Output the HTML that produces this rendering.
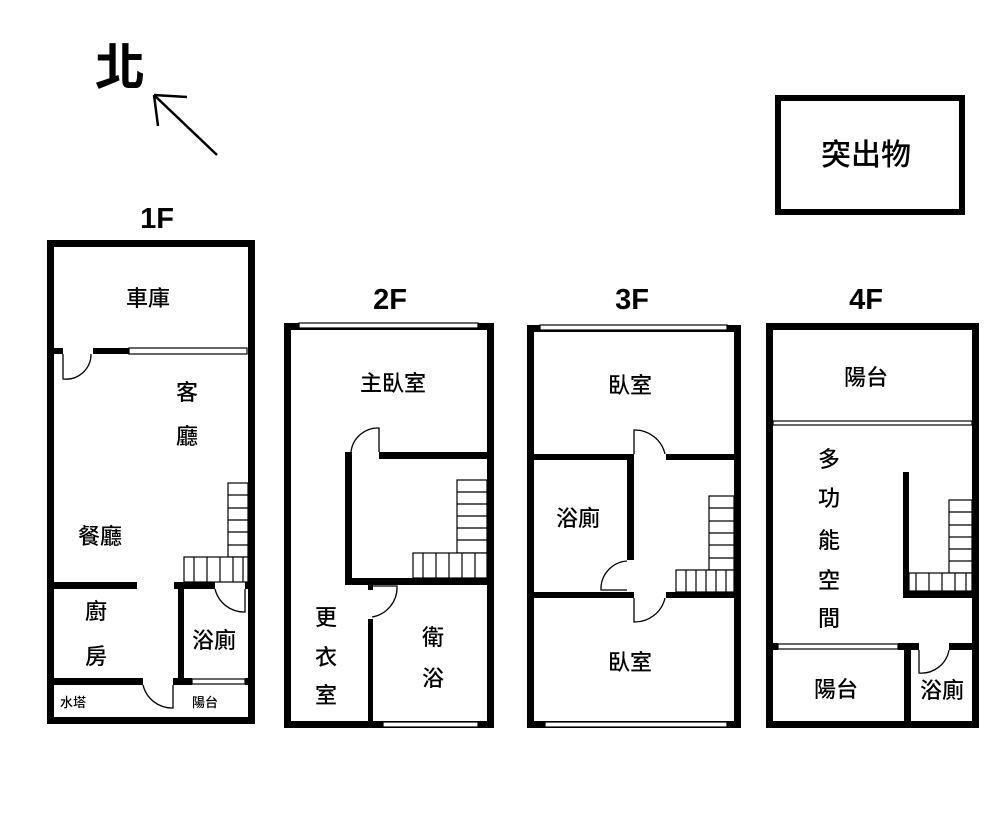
<!DOCTYPE html>
<html><head><meta charset="utf-8"><style>
html,body{margin:0;padding:0;background:#fff;}
svg{display:block}
text{font-family:"Liberation Sans","Noto Sans CJK TC",sans-serif;fill:#000;}
</style></head><body>
<svg width="1000" height="817" viewBox="0 0 1000 817" xmlns="http://www.w3.org/2000/svg">
<rect width="1000" height="817" fill="#fff"/>
<!-- North -->
<text x="120" y="85" font-size="50" font-weight="bold" text-anchor="middle" font-family="Noto Sans CJK TC,sans-serif">北</text>
<g stroke="#000" stroke-width="2.5" fill="none">
<line x1="217" y1="155" x2="154" y2="95"/>
<line x1="154" y1="95" x2="187" y2="97"/>
<line x1="154" y1="95" x2="158" y2="126"/>
</g>
<!-- legend box -->
<rect x="778" y="98" width="184" height="114" fill="none" stroke="#000" stroke-width="6"/>
<text x="866" y="165" font-size="30" font-weight="500" text-anchor="middle" font-family="Noto Sans CJK TC,sans-serif">突出物</text>
<!-- floor labels -->
<g font-size="29" font-weight="bold" text-anchor="middle">
<text x="157" y="228">1F</text>
<text x="390" y="309">2F</text>
<text x="632" y="309">3F</text>
<text x="866" y="309">4F</text>
</g>

<g fill="#000">
<rect x="47" y="240" width="208" height="7"/>
<rect x="47" y="240" width="7" height="484"/>
<rect x="248" y="240" width="7" height="484"/>
<rect x="47" y="717" width="208" height="7"/>
<rect x="47" y="348" width="16" height="6"/>
<rect x="93" y="348" width="36" height="6"/>
<rect x="47" y="582" width="90" height="7"/>
<rect x="174" y="582" width="41" height="7"/>
<rect x="245" y="582" width="10" height="7"/>
<rect x="178" y="582" width="6" height="103"/>
<rect x="47" y="678" width="96" height="7"/>
<rect x="173" y="678" width="19" height="7"/>
<rect x="245" y="678" width="10" height="7"/>

<rect x="284" y="323" width="210" height="7"/>
<rect x="284" y="323" width="7" height="405"/>
<rect x="487" y="323" width="7" height="405"/>
<rect x="284" y="721" width="210" height="7"/>
<rect x="345" y="452" width="7" height="133"/>
<rect x="379" y="452" width="115" height="7"/>
<rect x="345" y="578" width="149" height="7"/>
<rect x="368" y="585" width="5" height="5"/>
<rect x="368" y="619" width="5" height="105"/>

<rect x="527" y="325" width="213" height="7"/>
<rect x="527" y="325" width="7" height="403"/>
<rect x="734" y="325" width="7" height="403"/>
<rect x="527" y="721" width="213" height="7"/>
<rect x="527" y="454" width="107" height="6"/>
<rect x="666" y="454" width="74" height="6"/>
<rect x="627" y="454" width="7" height="106"/>
<rect x="527" y="592" width="107" height="6"/>
<rect x="666" y="592" width="74" height="6"/>

<rect x="766" y="323" width="212" height="7"/>
<rect x="766" y="323" width="7" height="405"/>
<rect x="972" y="323" width="7" height="405"/>
<rect x="766" y="721" width="212" height="7"/>
<rect x="903" y="472" width="6" height="126"/>
<rect x="903" y="591" width="75" height="7"/>
<rect x="766" y="643" width="12" height="7"/>
<rect x="898" y="643" width="21" height="7"/>
<rect x="949" y="643" width="29" height="7"/>
<rect x="904" y="643" width="7" height="85"/>
</g>

<g fill="#fff" stroke="#000" stroke-width="1.2">
<rect x="129" y="348" width="118" height="6"/>
<rect x="192" y="679" width="53" height="5"/>
<rect x="299" y="323" width="179" height="5"/>
<rect x="383" y="722" width="95" height="5"/>
<rect x="540" y="325" width="187" height="5"/>
<rect x="545" y="722" width="182" height="5"/>
<rect x="773" y="421" width="199" height="4"/>
<rect x="778" y="644" width="120" height="5"/>
</g>

<g fill="#fff" stroke="#000" stroke-width="1.2">
<rect x="228" y="483" width="20" height="74"/>
<line x1="228" y1="495" x2="248" y2="495"/><line x1="228" y1="508" x2="248" y2="508"/>
<line x1="228" y1="520" x2="248" y2="520"/><line x1="228" y1="532" x2="248" y2="532"/><line x1="228" y1="545" x2="248" y2="545"/>
<rect x="184" y="557" width="64" height="25"/>
<line x1="194" y1="557" x2="194" y2="582"/><line x1="207" y1="557" x2="207" y2="582"/>
<line x1="220" y1="557" x2="220" y2="582"/><line x1="233" y1="557" x2="233" y2="582"/><line x1="243" y1="557" x2="243" y2="582"/>

<rect x="457" y="480" width="30" height="73"/>
<line x1="457" y1="492" x2="487" y2="492"/><line x1="457" y1="504" x2="487" y2="504"/>
<line x1="457" y1="516" x2="487" y2="516"/><line x1="457" y1="528" x2="487" y2="528"/><line x1="457" y1="540" x2="487" y2="540"/>
<rect x="413" y="553" width="74" height="25"/>
<line x1="423" y1="553" x2="423" y2="578"/><line x1="436" y1="553" x2="436" y2="578"/>
<line x1="449" y1="553" x2="449" y2="578"/><line x1="462" y1="553" x2="462" y2="578"/><line x1="475" y1="553" x2="475" y2="578"/>

<rect x="709" y="496" width="25" height="74"/>
<line x1="709" y1="508" x2="734" y2="508"/><line x1="709" y1="521" x2="734" y2="521"/>
<line x1="709" y1="533" x2="734" y2="533"/><line x1="709" y1="545" x2="734" y2="545"/><line x1="709" y1="558" x2="734" y2="558"/>
<rect x="676" y="570" width="58" height="22"/>
<line x1="686" y1="570" x2="686" y2="592"/><line x1="696" y1="570" x2="696" y2="592"/>
<line x1="706" y1="570" x2="706" y2="592"/><line x1="716" y1="570" x2="716" y2="592"/><line x1="726" y1="570" x2="726" y2="592"/>

<rect x="949" y="500" width="23" height="73"/>
<line x1="949" y1="512" x2="972" y2="512"/><line x1="949" y1="525" x2="972" y2="525"/>
<line x1="949" y1="537" x2="972" y2="537"/><line x1="949" y1="549" x2="972" y2="549"/><line x1="949" y1="561" x2="972" y2="561"/>
<rect x="909" y="573" width="63" height="18"/>
<line x1="916" y1="573" x2="916" y2="591"/><line x1="929" y1="573" x2="929" y2="591"/>
<line x1="942" y1="573" x2="942" y2="591"/><line x1="955" y1="573" x2="955" y2="591"/><line x1="966" y1="573" x2="966" y2="591"/>
</g>

<g fill="none" stroke="#000" stroke-width="1.3">
<path d="M63 354 V379 A25 25 0 0 0 91 354"/>
<path d="M245 589 V612 A30 30 0 0 1 215 589"/>
<path d="M173 685 V708 A30 30 0 0 1 143 685"/>
<path d="M379 452 V428 A27 27 0 0 0 351 452"/>
<path d="M373 586 H397 A30 30 0 0 1 372 617"/>
<path d="M634 454 V430 A31 31 0 0 1 665 454"/>
<path d="M627 590 H601 A28 28 0 0 1 627 561"/>
<path d="M634 598 V622 A31 31 0 0 0 665 598"/>
<path d="M919 650 V673 A28 28 0 0 0 949 650"/>
</g>

<g font-size="22" font-weight="500" text-anchor="middle" font-family="Noto Sans CJK TC,sans-serif">
<text x="148" y="306">車庫</text>
<text x="187" y="400">客</text>
<text x="187" y="444">廳</text>
<text x="100" y="544">餐廳</text>
<text x="96" y="619">廚</text>
<text x="96" y="664">房</text>
<text x="214" y="648">浴廁</text>
<text x="393" y="391">主臥室</text>
<text x="326" y="625">更</text>
<text x="326" y="665">衣</text>
<text x="326" y="703">室</text>
<text x="433" y="645">衛</text>
<text x="433" y="686">浴</text>
<text x="630" y="393">臥室</text>
<text x="578" y="526">浴廁</text>
<text x="630" y="670">臥室</text>
<text x="866" y="385">陽台</text>
<text x="829" y="467">多</text>
<text x="829" y="506">功</text>
<text x="829" y="548">能</text>
<text x="829" y="588">空</text>
<text x="829" y="626">間</text>
<text x="836" y="697">陽台</text>
<text x="942" y="698">浴廁</text>
</g>
<g font-size="13" font-weight="500" text-anchor="middle" font-family="Noto Sans CJK TC,sans-serif">
<text x="73" y="707">水塔</text>
<text x="205" y="707">陽台</text>
</g>
</svg>
</body></html>
